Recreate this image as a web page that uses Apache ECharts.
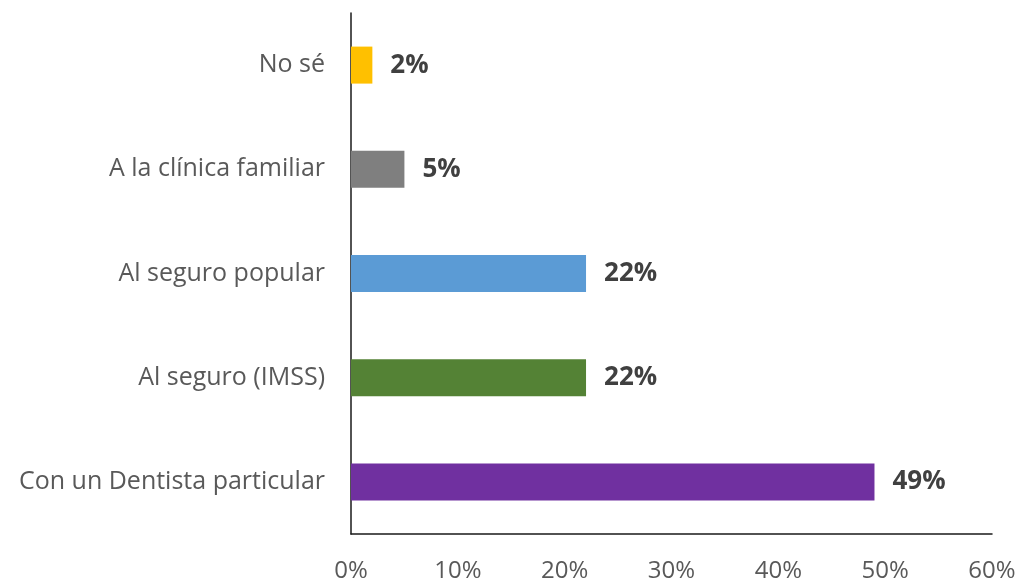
<!DOCTYPE html>
<html>
<head>
<meta charset="utf-8">
<script src="https://cdn.jsdelivr.net/npm/echarts@6/dist/echarts.min.js"></script>
<style>
  html, body { margin: 0; padding: 0; background: #fff; }
  #chart { width: 1021px; height: 584px; }
</style>
</head>
<body>
<div id="chart"></div>
<script>
// Categories listed bottom to top (category axis starts at the bottom)
const categories = [
  'Con un Dentista particular',
  'Al seguro (IMSS)',
  'Al seguro popular',
  'A la clínica familiar',
  'No sé'
];
const values = [49, 22, 22, 5, 2];
const barColors = ['#7030A0', '#548235', '#5B9BD5', '#7F7F7F', '#FFC000'];
const tickValues = [0, 10, 20, 30, 40, 50, 60];

const font = '"Open Sans", sans-serif';

const chart = echarts.init(document.getElementById('chart'), null, { renderer: 'canvas' });

chart.setOption({
  animation: false,
  backgroundColor: '#ffffff',
  grid: { left: 351, right: 29, top: 13, bottom: 50, containLabel: false },
  xAxis: {
    type: 'value',
    min: tickValues[0],
    max: tickValues[tickValues.length - 1],
    interval: 10,
    axisLine: { show: true, lineStyle: { color: '#1a1a1a', width: 1.5 } },
    axisTick: { show: false },
    splitLine: { show: false },
    axisLabel: {
      formatter: v => v + '%',
      color: '#595959',
      fontSize: 24,
      fontFamily: font,
      margin: 25
    }
  },
  yAxis: {
    type: 'category',
    data: categories,
    axisLine: { show: true, lineStyle: { color: '#1a1a1a', width: 1.5 } },
    axisTick: { show: false },
    axisLabel: {
      color: '#595959',
      fontSize: 25,
      fontFamily: font,
      margin: 26
    }
  },
  series: [{
    type: 'bar',
    barWidth: 37,
    data: values.map((v, i) => ({ value: v, itemStyle: { color: barColors[i] } })),
    label: {
      show: true,
      position: 'right',
      distance: 18,
      formatter: p => p.value + '%',
      color: '#404040',
      fontSize: 26,
      fontWeight: 'bold',
      fontFamily: font
    }
  }]
});
</script>
</body>
</html>
